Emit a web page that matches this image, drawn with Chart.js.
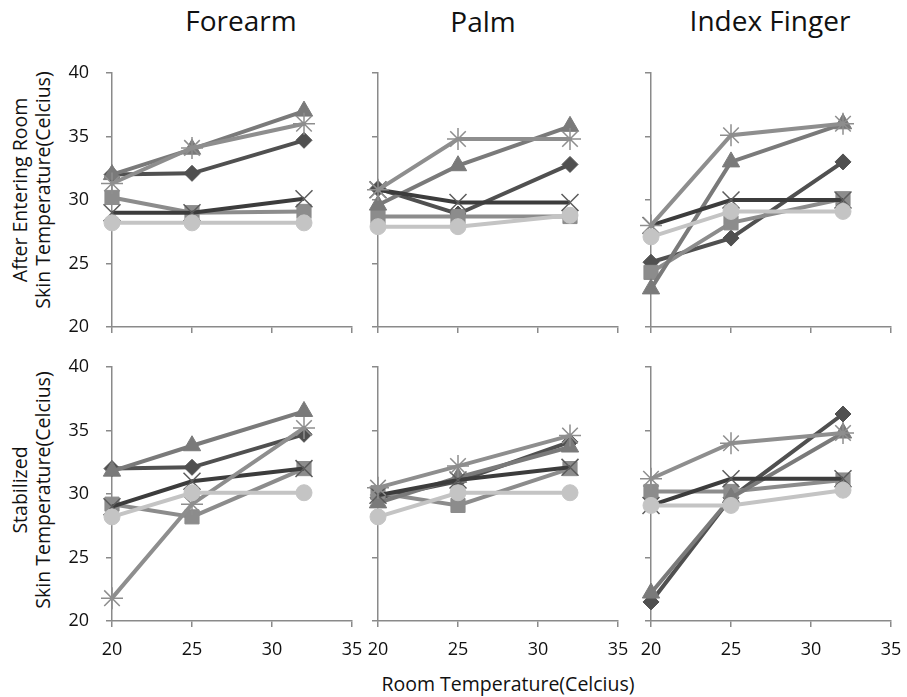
<!DOCTYPE html>
<html>
<head>
<meta charset="utf-8">
<script src="https://cdn.jsdelivr.net/npm/chart.js@4.4.1/dist/chart.umd.min.js"></script>
<style>
  body { margin: 0; background: #fff; }
  #page { position: relative; width: 907px; height: 697px; overflow: hidden; font-family: "Open Sans", sans-serif; color: #111; }
  canvas { position: absolute; }
  .title { position: absolute; font-size: 28px; transform: translate(-50%, -50%); white-space: nowrap; }
  .ytitle { position: absolute; font-size: 19.5px; line-height: 23px; text-align: center; white-space: nowrap;
            transform: translate(-50%, -50%) rotate(-90deg); }
  .xtitle { position: absolute; font-size: 19.5px; transform: translate(-50%, -50%); white-space: nowrap; }
</style>
</head>
<body>
<div id="page">
  <div class="title" style="left:241px; top:20px;">Forearm</div>
  <div class="title" style="left:483px; top:21px;">Palm</div>
  <div class="title" style="left:770px; top:20px;">Index Finger</div>
  <div class="ytitle" style="left:31px; top:190px;">After Entering Room<br>Skin Temperature(Celcius)</div>
  <div class="ytitle" style="left:31px; top:490px;">Stabilized<br>Skin Temperature(Celcius)</div>
  <div class="xtitle" style="left:508px; top:683px;">Room Temperature(Celcius)</div>
</div>
<script>
// room temperatures where readings were taken
const roomTemps = [20, 25, 32];
const xTicks = [20, 25, 30, 35];
const yTicks = [20, 25, 30, 35, 40];

// series order: diamond, square, triangle, x, star, circle
const forearmEntering = [
    [32.0, 32.1, 34.7],
    [30.2, 29.0, 29.1],
    [32.0, 34.0, 37.0],
    [29.0, 29.0, 30.1],
    [31.3, 34.1, 36.0],
    [28.2, 28.2, 28.2]
];
const palmEntering = [
    [30.9, 28.9, 32.8],
    [28.7, 28.7, 28.7],
    [29.6, 32.7, 35.8],
    [30.8, 29.8, 29.8],
    [30.8, 34.8, 34.8],
    [27.9, 27.9, 28.8]
];
const indexEntering = [
    [25.1, 27.0, 33.0],
    [24.3, 28.2, 30.1],
    [23.0, 33.0, 36.0],
    [28.0, 30.0, 30.0],
    [28.0, 35.1, 36.0],
    [27.1, 29.1, 29.1]
];
const forearmStable = [
    [32.0, 32.1, 34.7],
    [29.2, 28.2, 32.0],
    [31.8, 33.8, 36.5],
    [29.0, 31.0, 32.0],
    [21.8, 29.2, 35.2],
    [28.2, 30.1, 30.1]
];
const palmStable = [
    [29.7, 31.0, 34.1],
    [30.1, 29.1, 32.0],
    [29.3, 31.3, 33.7],
    [29.9, 31.1, 32.1],
    [30.5, 32.2, 34.6],
    [28.2, 30.1, 30.1]
];
const indexStable = [
    [21.5, 29.7, 36.3],
    [30.2, 30.2, 31.1],
    [22.2, 29.7, 34.8],
    [29.1, 31.2, 31.2],
    [31.2, 34.0, 34.8],
    [29.1, 29.1, 30.3]
];

const seriesStyle = [
    { line: "#505050", fill: "#505050", shape: "rectRot", r: 8 },
    { line: "#8c8c8c", fill: "#8c8c8c", shape: "rect", r: 10 },
    { line: "#7a7a7a", fill: "#7a7a7a", shape: "triangle", r: 10 },
    { line: "#3c3c3c", fill: "#5c5c5c", shape: "crossRot", r: 12 },
    { line: "#8e8e8e", fill: "#8e8e8e", shape: "star", r: 11 },
    { line: "#c4c4c4", fill: "#c4c4c4", shape: "circle", r: 8 }
];

const axisColor = "#8a8a8a";
// padT is kept larger than the y label overhang so the plot box stays put
const padL = 50, padT = 40, plotW = 240, plotH = 254, padR = 25, padB = 42;

const panels = [
    { data: forearmEntering, x: 112, y: 73, xLabels: false, yLabels: true },
    { data: palmEntering, x: 378, y: 73, xLabels: false, yLabels: false },
    { data: indexEntering, x: 651, y: 73, xLabels: false, yLabels: false },
    { data: forearmStable, x: 112, y: 367, xLabels: true, yLabels: true },
    { data: palmStable, x: 378, y: 367, xLabels: true, yLabels: false },
    { data: indexStable, x: 651, y: 367, xLabels: true, yLabels: false }
];

const page = document.getElementById("page");

panels.forEach(p=>{

    const canvas = document.createElement("canvas");
    const w = padL + plotW + padR;
    const h = padT + plotH + padB;
    canvas.width = w;
    canvas.height = h;
    canvas.style.width = w + "px";
    canvas.style.height = h + "px";
    canvas.style.left = (p.x - padL) + "px";
    canvas.style.top = (p.y - padT) + "px";
    page.appendChild(canvas);

    const datasets = p.data.map((vals, i)=>{
        const s = seriesStyle[i];
        return {
            data: vals.map((v, k)=>({ x: roomTemps[k], y: v })),
            borderColor: s.line,
            backgroundColor: s.fill,
            borderWidth: 4,
            pointStyle: s.shape,
            pointRadius: s.r,
            pointBorderColor: s.fill,
            pointBackgroundColor: s.fill,
            pointBorderWidth: (s.shape === "crossRot" || s.shape === "star") ? 1.5 : 1,
            tension: 0,
            clip: false,
            order: 6 - i
        };
    });

    new Chart(canvas,{
        type:"line",
        data:{ datasets },
        options:{
            responsive:false,
            animation:false,
            events:[],
            layout:{ padding:{ top:padT, right:padR, left:0, bottom:0 } },
            plugins:{ legend:{ display:false }, tooltip:{ enabled:false } },
            scales:{
                x:{
                    type:"linear",
                    min:xTicks[0],
                    max:xTicks[xTicks.length - 1],
                    afterBuildTicks(scale){
                        scale.ticks = xTicks.map(v=>({ value:v }));
                    },
                    afterFit(scale){ scale.height = padB; },
                    grid:{ drawOnChartArea:false, drawTicks:true, tickLength:6, color:axisColor, lineWidth:1.5 },
                    border:{ color:axisColor, width:1.5 },
                    ticks:{
                        display:p.xLabels,
                        padding:12,
                        maxRotation:0,
                        color:"#111",
                        font:{ family:"Open Sans", size:18 }
                    }
                },
                y:{
                    min:yTicks[0],
                    max:yTicks[yTicks.length - 1],
                    afterBuildTicks(scale){
                        scale.ticks = yTicks.map(v=>({ value:v }));
                    },
                    afterFit(scale){ scale.width = padL; },
                    grid:{ drawOnChartArea:false, drawTicks:true, tickLength:6, color:axisColor, lineWidth:1.5 },
                    border:{ color:axisColor, width:1.5 },
                    ticks:{
                        display:p.yLabels,
                        padding:17,
                        color:"#111",
                        font:{ family:"Open Sans", size:18 }
                    }
                }
            }
        }
    });
});
</script>
</body>
</html>
